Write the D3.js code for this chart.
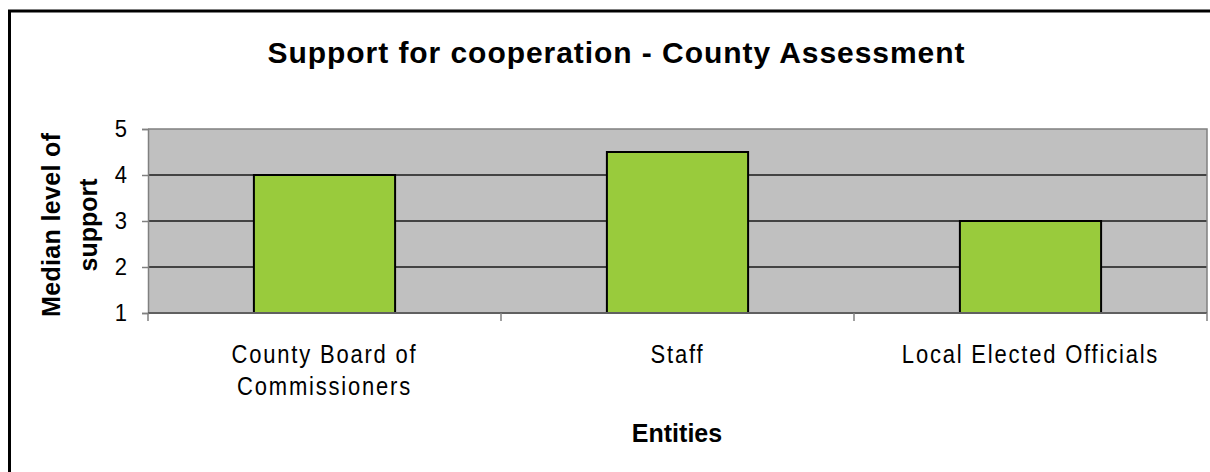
<!DOCTYPE html>
<html>
<head>
<meta charset="utf-8">
<script src="https://cdn.jsdelivr.net/npm/d3@7"></script>
<style>
  html, body { margin: 0; padding: 0; background: #fff; overflow: hidden; }
  text { font-family: "Liberation Sans", Arial, sans-serif; fill: #000; }
</style>
</head>
<body>
<div id="container"></div>
<script>
/* CONSTANTS AND GLOBALS */
const width = 1210,
  height = 472,
  margin = {top: 129, bottom: 159, left: 148, right: 3};

// chart data
const categories = ["County Board of Commissioners", "Staff", "Local Elected Officials"];
const categoryLines = [["County Board of", "Commissioners"], ["Staff"], ["Local Elected Officials"]];
const medianSupport = [4, 4.5, 3];
const yTicks = [1, 2, 3, 4, 5];

const titleText = "Support for cooperation - County Assessment";
const yLabelLines = ["Median level of", "support"];
const xLabelText = "Entities";

const svg = d3.select("#container")
  .append("svg")
  .attr("width", width)
  .attr("height", height);

// outer frame (right/bottom edges fall outside the picture)
svg.append("rect")
  .attr("x", 9.5)
  .attr("y", 11)
  .attr("width", 1300)
  .attr("height", 600)
  .attr("fill", "none")
  .attr("stroke", "#000")
  .attr("stroke-width", 3);

/* SCALES */
const xScale = d3.scaleBand()
  .domain(categories)
  .range([margin.left, width - margin.right])
  .padding(0);

const yScale = d3.scaleLinear()
  .domain([1, 5])
  .range([height - margin.bottom, margin.top]);

const x0 = xScale.range()[0], x1 = xScale.range()[1];
const y0 = yScale(1), y1 = yScale(5);

// plot background
svg.append("rect")
  .attr("x", x0)
  .attr("y", y1)
  .attr("width", x1 - x0)
  .attr("height", y0 - y1)
  .attr("fill", "#c0c0c0");

// gridlines
svg.append("g")
  .selectAll("line")
  .data(yTicks.filter(d => d > 1 && d < 5))
  .join("line")
  .attr("x1", x0)
  .attr("x2", x1)
  .attr("y1", d => yScale(d))
  .attr("y2", d => yScale(d))
  .attr("stroke", "#1a1a1a")
  .attr("stroke-width", 1.5);

// plot frame top / right
svg.append("path")
  .attr("d", `M${x0},${y1}H${x1}V${y0}`)
  .attr("fill", "none")
  .attr("stroke", "#808080")
  .attr("stroke-width", 1.5);

/* BARS */
const barW = xScale.bandwidth() * 0.4;
svg.append("g")
  .selectAll("rect")
  .data(categories.map((c, i) => ({cat: c, value: medianSupport[i]})))
  .join("rect")
  .attr("x", d => xScale(d.cat) + (xScale.bandwidth() - barW) / 2)
  .attr("y", d => yScale(d.value))
  .attr("width", barW)
  .attr("height", d => yScale(1) - yScale(d.value))
  .attr("fill", "#99cb3c")
  .attr("stroke", "#000")
  .attr("stroke-width", 2);

/* AXES */
const yAxis = d3.axisLeft(yScale)
  .tickValues(yTicks)
  .tickSize(6)
  .tickPadding(15)
  .tickFormat(d3.format("d"));

const yAxisGroup = svg.append("g")
  .attr("transform", `translate(${x0},0)`)
  .call(yAxis);
yAxisGroup.select(".domain").attr("stroke", "#808080").attr("stroke-width", 1.5);
yAxisGroup.selectAll(".tick line").attr("stroke", "#808080").attr("stroke-width", 1.5);
yAxisGroup.selectAll(".tick text")
  .attr("font-size", 22)
  .attr("font-family", "'Liberation Sans', Arial, sans-serif")
  .attr("fill", "#000")
  .attr("transform", "scale(1,1.08)");

// bottom axis: ticks at category boundaries
const boundaries = categories.map(c => xScale(c)).concat([x1]);
svg.append("line")
  .attr("x1", x0).attr("x2", x1)
  .attr("y1", y0).attr("y2", y0)
  .attr("stroke", "#606060")
  .attr("stroke-width", 2);
svg.append("g")
  .selectAll("line")
  .data(boundaries)
  .join("line")
  .attr("x1", d => d).attr("x2", d => d)
  .attr("y1", y0).attr("y2", y0 + 8)
  .attr("stroke", "#808080")
  .attr("stroke-width", 1.5);

// category labels
const catGroup = svg.append("g");
categories.forEach((c, i) => {
  const cx = xScale(c) + xScale.bandwidth() / 2;
  categoryLines[i].forEach((line, j) => {
    catGroup.append("text")
      .attr("transform", `translate(${cx},${363 + j * 32}) scale(1,1.15)`)
      .attr("text-anchor", "middle")
      .attr("font-size", 22)
      .attr("letter-spacing", "1.8px")
      .text(line);
  });
});

/* TITLES */
svg.append("text")
  .attr("x", 616)
  .attr("y", 63)
  .attr("text-anchor", "middle")
  .attr("font-size", 30)
  .attr("font-weight", "bold")
  .attr("textLength", 697)
  .attr("lengthAdjust", "spacing")
  .text(titleText);

svg.append("text")
  .attr("x", 677)
  .attr("y", 442)
  .attr("text-anchor", "middle")
  .attr("font-size", 25)
  .attr("font-weight", "bold")
  .text(xLabelText);

const yLabelLengths = [184, 0];
yLabelLines.forEach((line, j) => {
  const t = svg.append("text")
    .attr("transform", `translate(${60 + j * 37},225) rotate(-90)`)
    .attr("text-anchor", "middle")
    .attr("font-size", 25)
    .attr("font-weight", "bold")
    .text(line);
  if (yLabelLengths[j]) t.attr("textLength", yLabelLengths[j]).attr("lengthAdjust", "spacing");
});
</script>
</body>
</html>
